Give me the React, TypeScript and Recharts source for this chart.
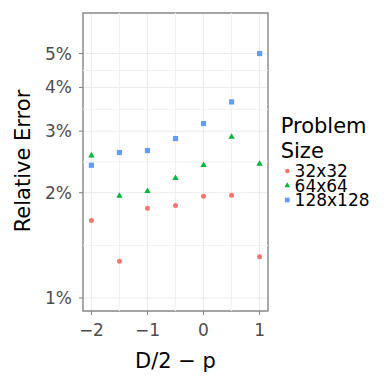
import React from 'react';
import {
  CartesianGrid,
  ReferenceArea,
  ReferenceLine,
  Scatter,
  ScatterChart,
  XAxis,
  YAxis,
} from 'recharts';

const xValues = [-2, -1.5, -1, -0.5, 0, 0.5, 1];
const err32 = [1.665, 1.273, 1.805, 1.838, 1.954, 1.967, 1.313];
const err64 = [2.555, 1.958, 2.02, 2.2, 2.397, 2.887, 2.418];
const err128 = [2.397, 2.606, 2.64, 2.857, 3.154, 3.637, 5.0];

const xTicks = [-2, -1, 0, 1];
const xMinor = [-1.5, -0.5, 0.5];
const yTicks = [1, 2, 3, 4, 5];
const yMinor = [1.414, 2.449, 3.464, 4.472];

const xDomain = [-2.15, 1.15];
const yDomain = [0.918, 6.53];

const FONT = 'DejaVu Sans';
const GRID = '#EBEBEB';
const TICK_LINE = '#7f7f7f';

const W = 390;
const H = 390;
const margin = { top: 13, right: 122, bottom: 0, left: 0 };
const Y_AXIS_W = 83;
const X_AXIS_H = 79;
const plotCenterX = margin.left + Y_AXIS_W + (W - margin.left - margin.right - Y_AXIS_W) / 2;
const plotCenterY = margin.top + (H - margin.top - margin.bottom - X_AXIS_H) / 2;

type ShapeKind = 'circle' | 'triangle' | 'square';

const series: { name: string; color: string; shape: ShapeKind; values: number[] }[] = [
  { name: '32x32', color: '#F8766D', shape: 'circle', values: err32 },
  { name: '64x64', color: '#00BA38', shape: 'triangle', values: err64 },
  { name: '128x128', color: '#619CFF', shape: 'square', values: err128 },
];

function drawMark(kind: ShapeKind, cx: number, cy: number, color: string, s = 1) {
  if (kind === 'circle') {
    return <circle cx={cx} cy={cy} r={2.5 * s} fill={color} />;
  }
  if (kind === 'triangle') {
    const w = 6.4 * s;
    const h = 5.6 * s;
    const pts = `${cx},${cy - (2 * h) / 3} ${cx - w / 2},${cy + h / 3} ${cx + w / 2},${cy + h / 3}`;
    return <polygon points={pts} fill={color} />;
  }
  const a = 5.2 * s;
  return <rect x={cx - a / 2} y={cy - a / 2} width={a} height={a} fill={color} />;
}

function fmtX(v: number) {
  return v < 0 ? `\u2212${-v}` : `${v}`;
}

// axis titles + legend, drawn over the chart (ggplot-style, tight legend rows)
function Overlay() {
  return (
    <svg
      width={W}
      height={H}
      style={{ position: 'absolute', left: 0, top: 0, pointerEvents: 'none' }}
    >
      <text
        x={plotCenterX}
        y={368}
        textAnchor="middle"
        fontSize={21}
        fill="#000"
        fontFamily={FONT}
      >
        D/2 {'\u2212'} p
      </text>
      <text
        transform={`translate(30,${plotCenterY - 1}) rotate(-90)`}
        textAnchor="middle"
        fontSize={21}
        fill="#000"
        fontFamily={FONT}
      >
        Relative Error
      </text>
      <g transform="translate(270,100)">
        <text x={10.7} y={32.5} fontSize={21} fill="#000" fontFamily={FONT}>
          Problem
        </text>
        <text x={10.7} y={58} fontSize={21} fill="#000" fontFamily={FONT}>
          Size
        </text>
        {series.map((s, i) => {
          const cy = 71 + i * 14.5;
          return (
            <g key={s.name}>
              {drawMark(s.shape, 17.3, cy, s.color, 0.9)}
              <text x={24.6} y={cy + 6} fontSize={17} fill="#000" fontFamily={FONT}>
                {s.name}
              </text>
            </g>
          );
        })}
      </g>
    </svg>
  );
}

export default function App() {
  return (
    <div
      style={{
        position: 'absolute',
        left: 0,
        top: 0,
        width: W,
        height: H,
        background: '#fff',
        fontFamily: FONT,
      }}
    >
      <ScatterChart width={W} height={H} margin={margin}>
        <CartesianGrid stroke={GRID} strokeWidth={1} />
        {yMinor.map((v) => (
          <ReferenceLine key={`ym${v}`} y={v} stroke="#F1F1F1" strokeWidth={1} />
        ))}
        {xMinor.map((v) => (
          <ReferenceLine key={`xm${v}`} x={v} stroke="#F1F1F1" strokeWidth={1} />
        ))}
        <XAxis
          type="number"
          dataKey="x"
          domain={xDomain}
          allowDataOverflow
          ticks={xTicks}
          tickFormatter={fmtX}
          axisLine={false}
          tickLine={{ stroke: TICK_LINE }}
          tickSize={4}
          tickMargin={9}
          height={X_AXIS_H}
          tick={{ fontSize: 17, fill: '#4D4D4D', fontFamily: FONT }}
        />
        <YAxis
          type="number"
          dataKey="y"
          scale="log"
          domain={yDomain}
          allowDataOverflow
          ticks={yTicks}
          tickFormatter={(v: number) => `${v}%`}
          axisLine={false}
          tickLine={{ stroke: TICK_LINE }}
          tickSize={4}
          tickMargin={7}
          width={Y_AXIS_W}
          tick={{ fontSize: 17, fill: '#4D4D4D', fontFamily: FONT }}
        />
        <ReferenceArea
          x1={xDomain[0]}
          x2={xDomain[1]}
          y1={yDomain[0]}
          y2={yDomain[1]}
          fill="none"
          stroke="#8a8a8a"
          strokeWidth={1.4}
          ifOverflow="visible"
        />
        {series.map((s) => (
          <Scatter
            key={s.name}
            name={s.name}
            data={xValues.map((x, i) => ({ x, y: s.values[i] }))}
            fill={s.color}
            isAnimationActive={false}
            shape={(p: any) => drawMark(s.shape, p.cx, p.cy, s.color)}
          />
        ))}
      </ScatterChart>
      <Overlay />
    </div>
  );
}
